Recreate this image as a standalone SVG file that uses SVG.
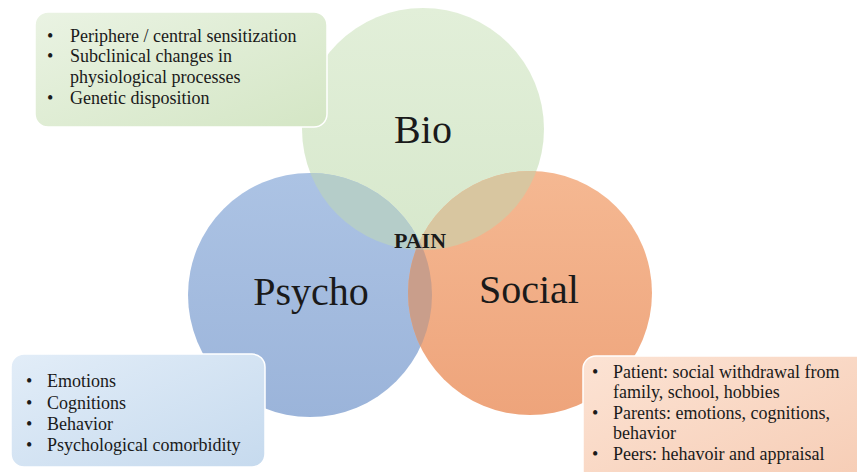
<svg xmlns="http://www.w3.org/2000/svg" width="857" height="472" viewBox="0 0 857 472">
<defs>
<style>
.box{stroke:#ffffff;stroke-width:1.5}
text{font-family:'Liberation Serif','Times New Roman',serif;fill:#1a1a1a}
.t{font-size:18px}
.big{font-size:40px;text-anchor:middle}
.pain{font-size:22px;font-weight:bold;text-anchor:middle}
</style>
<linearGradient id="gBio" x1="0" y1="0" x2="0" y2="1"><stop offset="0" stop-color="#e2efd9"/><stop offset="1" stop-color="#d7e8cc"/></linearGradient>
<linearGradient id="gPsy" x1="0" y1="0" x2="0" y2="1"><stop offset="0" stop-color="#acc3e4"/><stop offset="1" stop-color="#9bb4da"/></linearGradient>
<linearGradient id="gSoc" x1="0" y1="0" x2="0" y2="1"><stop offset="0" stop-color="#f5b892"/><stop offset="1" stop-color="#eea47b"/></linearGradient>
<linearGradient id="gBoxG" x1="0" y1="0" x2="1" y2="1"><stop offset="0" stop-color="#eaf3e3"/><stop offset="1" stop-color="#d4e6c5"/></linearGradient>
<linearGradient id="gBoxB" x1="0" y1="0" x2="1" y2="1"><stop offset="0" stop-color="#e2edf8"/><stop offset="1" stop-color="#c6daee"/></linearGradient>
<linearGradient id="gBoxO" x1="0" y1="0" x2="1" y2="1"><stop offset="0" stop-color="#fce3d4"/><stop offset="1" stop-color="#f6ccb4"/></linearGradient>
<clipPath id="cBio"><circle cx="423" cy="129" r="121"/></clipPath>
<clipPath id="cPsy"><circle cx="310" cy="295" r="122"/></clipPath>
</defs>
<g id="circles">
<g id="bio"><circle cx="423" cy="129" r="121" fill="url(#gBio)"/></g>
<g id="psycho"><circle cx="310" cy="295" r="122" fill="url(#gPsy)"/></g>
<g id="social"><circle cx="530" cy="293" r="122" fill="url(#gSoc)"/></g>
<g id="overlaps">
<g clip-path="url(#cBio)"><circle cx="310" cy="295" r="122" fill="#b5cdc9"/></g>
<g clip-path="url(#cBio)"><circle cx="530" cy="293" r="122" fill="#d8c6a0"/></g>
<g clip-path="url(#cPsy)"><circle cx="530" cy="293" r="122" fill="#c99e8b"/></g>
<g clip-path="url(#cBio)"><g clip-path="url(#cPsy)"><circle cx="530" cy="293" r="122" fill="#bfae9e"/></g></g>
</g>
</g>
<g id="labels">
<text class="big" x="423" y="143">Bio</text>
<text class="big" x="311" y="305">Psycho</text>
<text class="big" x="529" y="303">Social</text>
<text class="pain" x="420" y="248">PAIN</text>
</g>
<g id="box-bio">
<rect class="box" x="35" y="12" width="292" height="115" rx="13" fill="url(#gBoxG)"/>
<text class="t"><tspan x="47" y="42">•</tspan><tspan x="70" y="42">Periphere / central sensitization</tspan><tspan x="47" y="62">•</tspan><tspan x="70" y="62">Subclinical changes in</tspan><tspan x="70" y="83">physiological processes</tspan><tspan x="47" y="104">•</tspan><tspan x="70" y="104">Genetic disposition</tspan></text>
</g>
<g id="box-psycho">
<rect class="box" x="11" y="354" width="254" height="113" rx="13" fill="url(#gBoxB)"/>
<text class="t"><tspan x="26" y="387">•</tspan><tspan x="47" y="387">Emotions</tspan><tspan x="26" y="409">•</tspan><tspan x="47" y="409">Cognitions</tspan><tspan x="26" y="430">•</tspan><tspan x="47" y="430">Behavior</tspan><tspan x="26" y="451">•</tspan><tspan x="47" y="451">Psychological comorbidity</tspan></text>
</g>
<g id="box-social">
<rect class="box" x="583" y="356" width="290" height="130" rx="13" fill="url(#gBoxO)"/>
<text class="t"><tspan x="592" y="378">•</tspan><tspan x="613" y="378">Patient: social withdrawal from</tspan><tspan x="613" y="398">family, school, hobbies</tspan><tspan x="592" y="419">•</tspan><tspan x="613" y="419">Parents: emotions, cognitions,</tspan><tspan x="613" y="439">behavior</tspan><tspan x="592" y="460">•</tspan><tspan x="613" y="460">Peers: hehavoir and appraisal</tspan></text>
</g>
</svg>
